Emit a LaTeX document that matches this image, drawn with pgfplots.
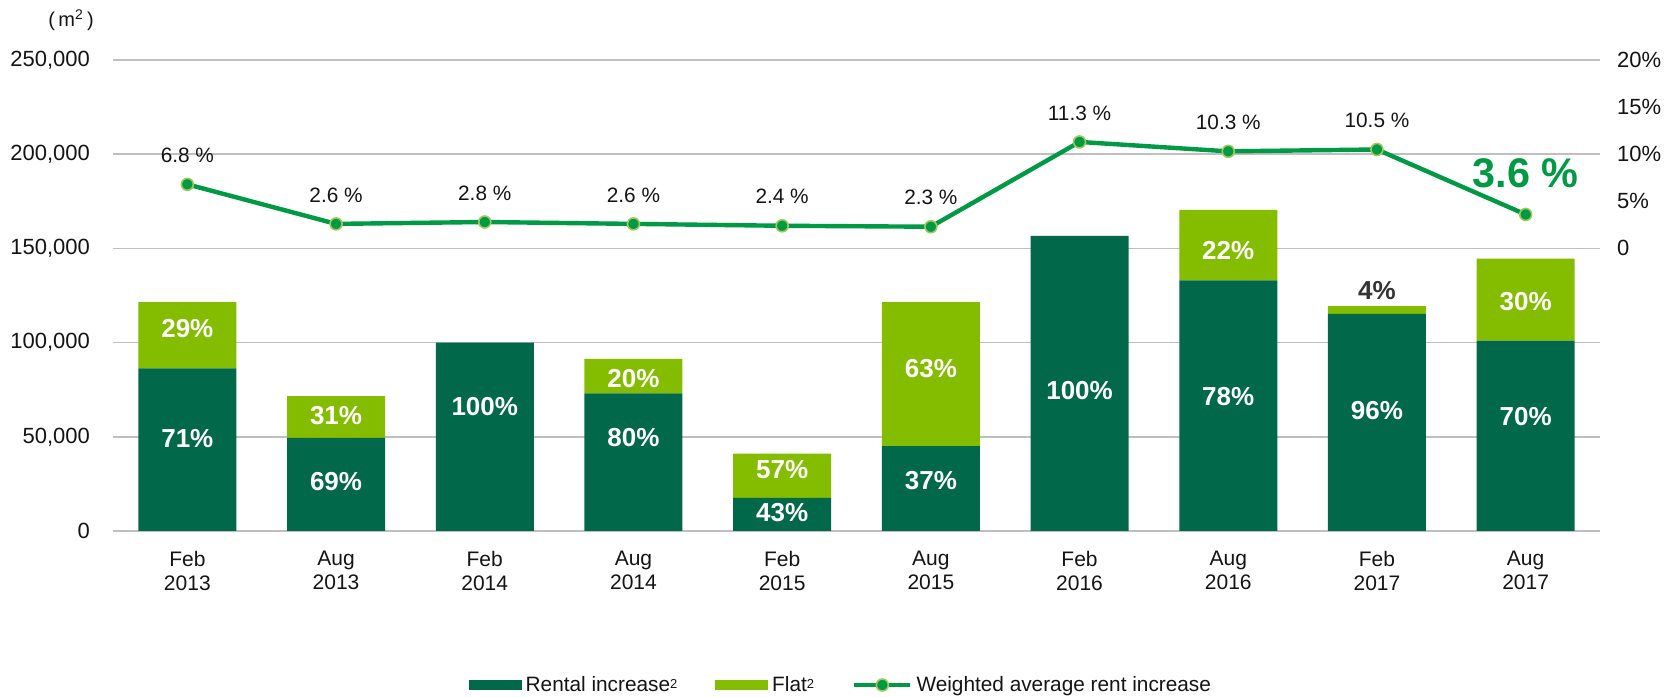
\documentclass[border=0pt]{standalone}
\usepackage{fontspec}
\setmainfont{Liberation Sans}
\usepackage{pgfplots}
\usepackage{pgfplotstable}
\pgfplotsset{compat=1.18}

\definecolor{darkg}{RGB}{2,104,74}
\definecolor{flatg}{RGB}{132,189,0}
\definecolor{lineg}{RGB}{0,153,68}
\definecolor{markedge}{RGB}{160,200,90}
\definecolor{gridg}{RGB}{191,191,191}
\definecolor{txt}{RGB}{20,20,20}
\definecolor{dtxt}{RGB}{51,51,51}

% leased area (m2): rental increase / flat
\pgfplotstableread{
x dark flat
0 86300 35200
1 49400 22200
2 100000 0
3 73000 18300
4 17600 23400
5 45000 76500
6 156600 0
7 133000 37400
8 115200 4200
9 101000 43600
}\bars

% share labels inside the bars (y = label position)
\pgfplotstableread{
x y lab
0 48800 71
1 26500 69
2 66300 100
3 49400 80
4 9600 43
5 26500 37
6 74800 100
7 71100 78
8 63700 96
9 61000 70
0 107200 29
1 61000 31
3 80700 20
4 32400 57
5 86000 63
7 149000 22
9 122000 30
}\sharelabels

% weighted average rent increase (%)
\pgfplotstableread{
x pct
0 6.8
1 2.6
2 2.8
3 2.6
4 2.4
5 2.3
6 11.3
7 10.3
8 10.5
9 3.6
}\rent

\begin{document}
\begin{tikzpicture}
% bars, grid, left axis
\begin{axis}[
    name=main,
    width=743.5pt, height=235.5pt, scale only axis,
    ybar stacked, bar width=49pt,
    xmin=-0.5, xmax=9.5, ymin=0, ymax=250000,
    xtick={0,...,9},
    xticklabels={{Feb\\2013},{Aug\\2013},{Feb\\2014},{Aug\\2014},{Feb\\2015},
                 {Aug\\2015},{Feb\\2016},{Aug\\2016},{Feb\\2017},{Aug\\2017}},
    xticklabel style={align=center, text=txt,
        font=\fontsize{10.5}{12}\selectfont, yshift=-6.5pt},
    ytick={0,50000,100000,150000,200000,250000},
    yticklabels={0,{50,000},{100,000},{150,000},{200,000},{250,000}},
    scaled y ticks=false,
    yticklabel style={text=txt, font=\fontsize{11}{13}\selectfont, xshift=-8pt},
    major tick length=0pt,
    ymajorgrids, grid style={draw=gridg, line width=0.75pt},
    axis line style={draw=none},
    ylabel={(\,m\textsuperscript{2}\,)},
    every axis y label/.style={at={(axis description cs:-0.0282,1.085)},
        anchor=center, font=\fontsize{10}{12}\selectfont, text=txt},
]
\addplot[fill=darkg, draw=none] table[x=x, y=dark] {\bars};
\addplot[fill=flatg, draw=none] table[x=x, y=flat] {\bars};
\end{axis}

% share labels
\begin{axis}[
    width=743.5pt, height=235.5pt, scale only axis,
    xmin=-0.5, xmax=9.5, ymin=0, ymax=250000,
    hide axis, clip=false,
]
\addplot[draw=none, mark=none, point meta=explicit symbolic,
    nodes near coords={\pgfplotspointmeta\%},
    every node near coord/.append style={anchor=center, text=white,
        font=\bfseries\fontsize{13}{13}\selectfont}]
    table[x=x, y=y, meta=lab] {\sharelabels};
\addplot[draw=none, mark=none, point meta=explicit symbolic,
    nodes near coords={\pgfplotspointmeta\%},
    every node near coord/.append style={anchor=center, text=dtxt,
        font=\bfseries\fontsize{13}{13}\selectfont}]
    coordinates {(8,127400) [4]};
\end{axis}

% right axis, line and legend
\begin{axis}[
    width=743.5pt, height=235.5pt, scale only axis,
    xmin=-0.5, xmax=9.5, ymin=-30, ymax=20,
    hide x axis, axis y line*=right,
    axis line style={draw=none},
    major tick length=0pt,
    ytick={0,5,10,15,20},
    yticklabels={0,5\%,10\%,15\%,20\%},
    yticklabel style={text=txt, font=\fontsize{11}{13}\selectfont, xshift=5pt},
    clip=false,
    legend style={at={(0.4902,-0.327)}, anchor=center, draw=none, fill=none,
        inner sep=0pt, outer sep=0pt,
        legend columns=3, font=\fontsize{10.4}{11}\selectfont, text=txt,
        cells={anchor=west, inner ysep=1pt},
        /tikz/every even column/.append style={column sep=17pt}},
]
\addlegendimage{legend image code/.code={\fill[darkg] (0pt,-2.25pt) rectangle (26pt,2.25pt);}}
\addlegendentry{Rental increase\raisebox{1.3pt}{\fontsize{6.5}{6.5}\selectfont 2}}
\addlegendimage{legend image code/.code={\fill[flatg] (0pt,-2.25pt) rectangle (26pt,2.25pt);}}
\addlegendentry{Flat\raisebox{1.3pt}{\fontsize{6.5}{6.5}\selectfont 2}}
\addplot[color=lineg, line width=2.2pt, mark=*, mark size=3pt,
    mark options={fill=lineg, draw=markedge, line width=0.8pt},
    legend image code/.code={
        \draw[lineg, line width=2.2pt] (0pt,0pt) -- (28pt,0pt);
        \draw[fill=lineg, draw=markedge, line width=0.8pt] (14pt,0pt) circle (3pt);}]
    table[x=x, y=pct] {\rent};
\addlegendentry{Weighted average rent increase}
\addplot[draw=none, mark=none, forget plot, restrict x to domain=0:8,
    point meta=explicit symbolic,
    nodes near coords={\pgfplotspointmeta~\%},
    every node near coord/.append style={anchor=center, yshift=14.5pt, text=txt,
        font=\fontsize{10.4}{12}\selectfont}]
    table[x=x, y=pct, meta=pct] {\rent};
\addplot[draw=none, mark=none, forget plot, restrict x to domain=9:9,
    point meta=explicit symbolic,
    nodes near coords={\pgfplotspointmeta~\%},
    every node near coord/.append style={anchor=center, yshift=20.5pt, text=lineg,
        font=\bfseries\fontsize{20.7}{22}\selectfont}]
    table[x=x, y=pct, meta=pct] {\rent};
\end{axis}

\pgfresetboundingbox
\useasboundingbox ([xshift=-56.5pt,yshift=-83pt]main.south west) rectangle
      ([xshift=37.5pt,yshift=30pt]main.north east);
\end{tikzpicture}
\end{document}
